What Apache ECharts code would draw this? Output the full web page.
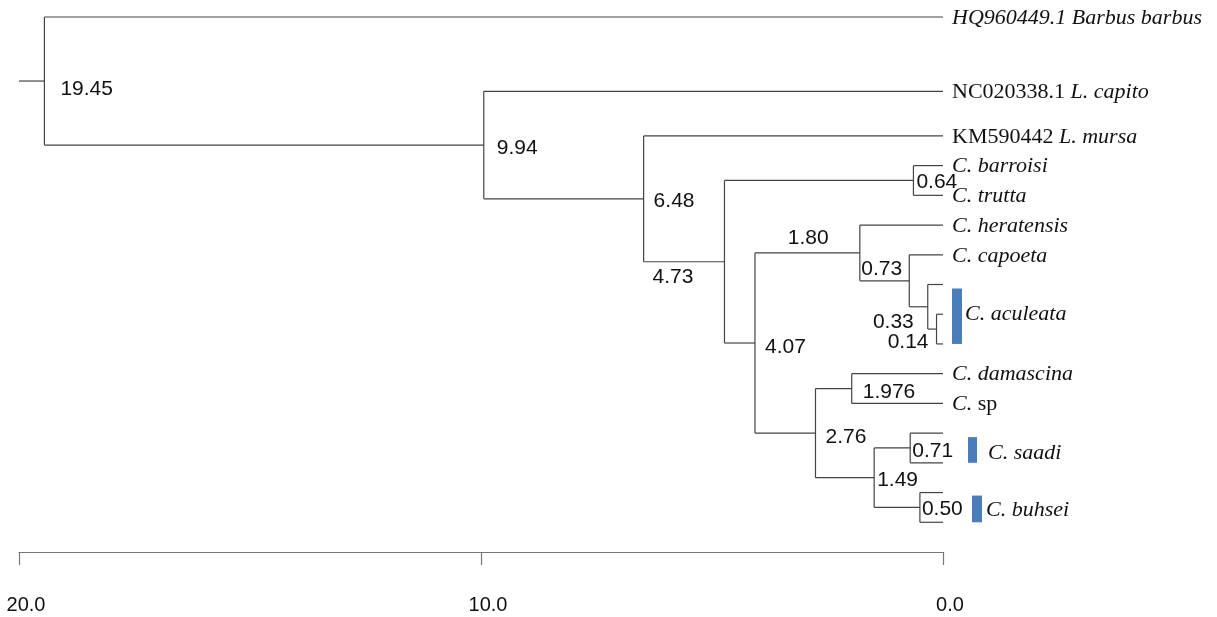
<!DOCTYPE html>
<html><head><meta charset="utf-8">
<script src="https://cdn.jsdelivr.net/npm/echarts@6/dist/echarts.min.js"></script>
<style>html,body{margin:0;padding:0;background:#fff}#c{width:1217px;height:617px}</style>
</head><body><div id="c"></div>
<script>
// ---- Tree data ----
const nodeNames = ['root','Barbus','n9.94','capito','n6.48','mursa','n4.73','n0.64','barroisi','trutta',
  'n4.07','n1.80','heratensis','n0.73','capoeta','n0.33','acu1','n0.14','acu2','acu3',
  'n2.76','n1.976','damascina','sp','n1.49','n0.71','saadi1','saadi2','n0.50','buhsei1','buhsei2'];
const nodeParents = [-1,0,0,2,2,4,4,6,7,7,6,10,11,11,13,13,15,15,17,17,10,20,21,21,20,24,25,25,24,28,28];
const nodeAges = [19.45,0,9.94,0,6.48,0,4.73,0.64,0,0,4.07,1.80,0,0.73,0,0.33,0,0.14,0,0,
  2.76,1.976,0,0,1.49,0.71,0,0,0.50,0,0];
const nodeAgeLabels = ['19.45','','9.94','','6.48','','4.73','0.64','','','4.07','1.80','','0.73','','0.33','','0.14','','',
  '2.76','1.976','','','1.49','0.71','','','0.50','',''];
// leaf row positions (internal nodes computed as mean of children)
const leafRows = [null,0,null,2.5,null,4,null,null,5,6,null,null,7,null,8,null,9,null,10,11,
  null,null,12,13,null,null,14,15,null,16,17];
const tipLabels = ['','{i|HQ960449.1 Barbus barbus}','','{n|NC020338.1 }{i|L. capito}','','{n|KM590442 }{i|L. mursa}','','',
  '{i|C. barroisi}','{i|C. trutta}','','','{i|C. heratensis}','','{i|C. capoeta}','','','','','',
  '','','{i|C. damascina}','{i|C.} {n|sp}','','','','','','',''];
const rootEdgeFrom = 20;
// clades marked with bars
const cladeNames = ['C. aculeata','C. saadi','C. buhsei'];
const cladeFirstLeaf = [16,26,29];
const cladeLastLeaf = [19,27,30];
// axis ticks
const axisTicks = [0,10,20];

// ---- layout (computed) ----
const N = nodeNames.length;
const children = nodeNames.map(()=>[]);
nodeParents.forEach((p,i)=>{ if(p>=0) children[p].push(i); });
const rows = leafRows.slice();
for (let i=N-1;i>=0;i--) {
  if (rows[i]===null) rows[i] = children[i].reduce((s,c)=>s+rows[c],0)/children[i].length;
}

// ---- styles (pixel offsets for labels) ----
const nodeLabelStyle = {
  0:{dx:16,dy:8,align:'left'}, 2:{dx:13,dy:3,align:'left'}, 4:{dx:10,dy:2,align:'left'},
  6:{dx:-72,dy:15,align:'left'}, 7:{dx:3,dy:2,align:'left'}, 10:{dx:10,dy:4,align:'left'},
  11:{dx:-72,dy:-15,align:'left'}, 13:{dx:-48,dy:-12,align:'left'}, 15:{dx:-14,dy:15,align:'right'},
  17:{dx:-8,dy:13,align:'right'}, 20:{dx:10,dy:4,align:'left'}, 21:{dx:11,dy:4,align:'left'},
  24:{dx:3,dy:3,align:'left'}, 25:{dx:2,dy:3,align:'left'}, 28:{dx:2,dy:2,align:'left'}
};
const cladeStyle = [
  {barDx:9, barW:10, topIn:4, labelDx:3, labelDy:0},
  {barDx:25, barW:9, topIn:4, labelDx:11, labelDy:5},
  {barDx:29, barW:10, topIn:3, labelDx:4, labelDy:3}
];
const LINE = '#444';
const serif = '"Liberation Serif", "Times New Roman", serif';
const sans = '"Liberation Sans", Arial, sans-serif';
const richTip = {
  i:{fontFamily:serif, fontStyle:'italic', fontSize:22, fill:'#111'},
  n:{fontFamily:serif, fontStyle:'normal', fontSize:22, fill:'#111'}
};

function renderNode(params, api) {
  const i = params.dataIndex;
  const age = api.value(0), row = api.value(1);
  const p = api.coord([age,row]);
  const els = [];
  const fromAge = nodeParents[i]>=0 ? nodeAges[nodeParents[i]] : rootEdgeFrom;
  const pf = api.coord([fromAge,row]);
  els.push({type:'line', shape:{x1:pf[0],y1:p[1],x2:p[0],y2:p[1]}, style:{stroke:LINE,lineWidth:1.2}});
  if (children[i].length) {
    const cr = children[i].map(c=>rows[c]);
    const a = api.coord([age,Math.min(...cr)]), b = api.coord([age,Math.max(...cr)]);
    els.push({type:'line', shape:{x1:a[0],y1:a[1],x2:b[0],y2:b[1]}, style:{stroke:LINE,lineWidth:1.2}});
  }
  if (nodeAgeLabels[i]) {
    const s = nodeLabelStyle[i];
    els.push({type:'text', x:p[0]+s.dx, y:p[1]+s.dy, style:{text:nodeAgeLabels[i], font:'21px '+sans,
      fill:'#111', align:s.align, verticalAlign:'middle'}});
  }
  if (tipLabels[i]) {
    els.push({type:'text', x:p[0]+9, y:p[1]+1, style:{text:tipLabels[i], rich:richTip,
      font:'italic 22px '+serif, fill:'#111', align:'left', verticalAlign:'middle'}});
  }
  return {type:'group', children:els};
}

function renderClade(params, api) {
  const k = params.dataIndex;
  const s = cladeStyle[k];
  const a = api.coord([0, rows[cladeFirstLeaf[k]]]);
  const b = api.coord([0, rows[cladeLastLeaf[k]]]);
  const x = a[0]+s.barDx;
  return {type:'group', children:[
    {type:'rect', shape:{x:x, y:a[1]+s.topIn, width:s.barW, height:b[1]-a[1]-s.topIn}, style:{fill:'#4a7ebb'}},
    {type:'text', x:x+s.barW+s.labelDx, y:(a[1]+b[1])/2+s.labelDy,
      style:{text:cladeNames[k], font:'italic 22px '+serif, fill:'#111', align:'left', verticalAlign:'middle'}}
  ]};
}

const chart = echarts.init(document.getElementById('c'));
chart.setOption({
  animation:false,
  backgroundColor:'#fff',
  grid:{left:19, right:274, top:17, bottom:65, containLabel:false},
  xAxis:{type:'value', inverse:true, min:0, max:20, interval:10, position:'bottom',
    axisLine:{show:true, onZero:false, lineStyle:{color:'#777', width:1.2}},
    axisTick:{show:true, length:13, lineStyle:{color:'#777', width:1.2}},
    axisLabel:{margin:43, fontSize:20, fontFamily:sans, color:'#111', padding:[0,0,0,14],
      formatter:v=>axisTicks.includes(v)?v.toFixed(1):''},
    splitLine:{show:false}},
  yAxis:{type:'value', inverse:true, min:0, max:18, show:false},
  series:[
    {type:'custom', renderItem:renderNode, clip:false,
      data:nodeAges.map((a,i)=>[a, rows[i]]), encode:{x:0,y:1}},
    {type:'custom', renderItem:renderClade, clip:false,
      data:cladeNames.map((n,k)=>[0, rows[cladeFirstLeaf[k]]]), encode:{x:0,y:1}}
  ]
});
</script>
</body></html>
